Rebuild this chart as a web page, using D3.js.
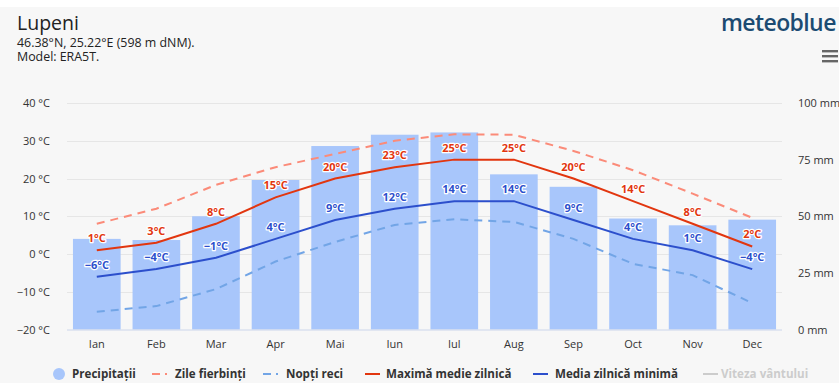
<!DOCTYPE html>
<html>
<head>
<meta charset="utf-8">
<script src="https://cdn.jsdelivr.net/npm/d3@7"></script>
<style>
  html, body { margin: 0; padding: 0; background: #ffffff; }
  svg { display: block; font-family: "Open Sans", "DejaVu Sans", sans-serif; }
</style>
</head>
<body>
<svg id="chart" width="839" height="383"></svg>
<script>
// Monthly climate for Lupeni
const months = ["Ian", "Feb", "Mar", "Apr", "Mai", "Iun", "Iul", "Aug", "Sep", "Oct", "Nov", "Dec"];
const precipitation = [40, 39.5, 50, 66, 81, 86, 87, 68.5, 63, 49, 46, 48.5];   // mm
const hotDays = [8, 12, 18.3, 23, 26.5, 30, 31.7, 31.6, 27.3, 22.2, 16, 9.6];      // °C
const coldNights = [-15.3, -13.8, -9.3, -2, 3.2, 7.7, 9.2, 8.5, 4, -2.6, -5.6, -13]; // °C
const maxDaily = [1, 3, 8, 15, 20, 23, 25, 25, 20, 14, 8, 2];                      // °C
const minDaily = [-6, -4, -1, 4, 9, 12, 14, 14, 9, 4, 1, -4];                      // °C
const tempTicks = [-20, -10, 0, 10, 20, 30, 40];
const precipTicks = [0, 25, 50, 75, 100];

const svg = d3.select("#chart");
const W = 839, H = 383;
const plot = { left: 67, right: 782, top: 103, bottom: 329.5 };

svg.append("rect").attr("x", 0).attr("y", 7).attr("width", W).attr("height", H - 7).attr("fill", "#f7f7f7");

const x = d3.scaleBand().domain(months).range([plot.left, plot.right]).paddingInner(0.2).paddingOuter(0.1);
const yT = d3.scaleLinear().domain([-20, 40]).range([plot.bottom, plot.top]);
const yP = d3.scaleLinear().domain([0, 100]).range([plot.bottom, plot.top]);

// Header
svg.append("text").attr("x", 17).attr("y", 30).attr("font-size", 19.5).attr("fill", "#222").text("Lupeni");
svg.append("text").attr("x", 17).attr("y", 47).attr("font-size", 12.4).attr("fill", "#222").text("46.38°N, 25.22°E (598 m dNM).");
svg.append("text").attr("x", 17).attr("y", 61).attr("font-size", 12.4).attr("fill", "#222").text("Model: ERA5T.");
svg.append("text").attr("x", 721).attr("y", 31).attr("font-size", 23).attr("font-weight", 600).attr("fill", "#1c4b72")
  .attr("letter-spacing", -0.6).text("meteoblue");
const burger = svg.append("g").attr("fill", "#666");
[50, 55, 60].forEach(yy => burger.append("rect").attr("x", 822).attr("y", yy).attr("width", 16).attr("height", 2.4));

// Gridlines
svg.append("g").selectAll("line").data(tempTicks.slice(1)).join("line")
  .attr("x1", plot.left).attr("x2", plot.right)
  .attr("y1", d => Math.round(yT(d)) + 0.5).attr("y2", d => Math.round(yT(d)) + 0.5)
  .attr("stroke", "#e6e6e6").attr("stroke-width", 1);

// Left axis (temperature)
const axL = svg.append("g").attr("transform", `translate(${plot.left - 14},0)`)
  .call(d3.axisLeft(yT).tickValues(tempTicks).tickSize(0).tickFormat(d => `${d} °C`));
axL.select(".domain").remove();
axL.selectAll("text").attr("font-size", 11).attr("fill", "#333").attr("font-family", "Open Sans, sans-serif")
  .text(d => `${d < 0 ? "\u2212" : ""}${Math.abs(d)} °C`);

// Right axis (precipitation)
const axR = svg.append("g").attr("transform", `translate(${plot.right + 13},0)`)
  .call(d3.axisRight(yP).tickValues(precipTicks).tickSize(0).tickFormat(d => `${d} mm`));
axR.select(".domain").remove();
axR.selectAll("text").attr("font-size", 11).attr("fill", "#333").attr("font-family", "Open Sans, sans-serif");

// Bars
svg.append("g").selectAll("rect").data(months).join("rect")
  .attr("x", d => x(d)).attr("width", x.bandwidth())
  .attr("y", (d, i) => yP(precipitation[i]))
  .attr("height", (d, i) => yP(0) - yP(precipitation[i]))
  .attr("fill", "#a8c6fb");

// Bottom axis
svg.append("line").attr("x1", plot.left).attr("x2", plot.right)
  .attr("y1", plot.bottom + 0.5).attr("y2", plot.bottom + 0.5).attr("stroke", "#ccd6eb");
const axB = svg.append("g").attr("transform", `translate(0,${plot.bottom + 8})`)
  .call(d3.axisBottom(x).tickSize(0));
axB.select(".domain").remove();
axB.selectAll("text").attr("font-size", 11).attr("fill", "#333").attr("font-family", "Open Sans, sans-serif");

// Temperature lines
const cx = m => x(m) + x.bandwidth() / 2;
const line = d3.line().x((d, i) => cx(months[i])).y(d => yT(d));
const series = [
  { data: coldNights, color: "#72a5e6", dash: "8,6" },
  { data: hotDays, color: "#fb8b79", dash: "8,6" },
  { data: minDaily, color: "#2c4fcc", dash: null },
  { data: maxDaily, color: "#e2360f", dash: null }
];
series.forEach(s => {
  svg.append("path").datum(s.data).attr("d", line)
    .attr("fill", "none").attr("stroke", s.color).attr("stroke-width", 2)
    .attr("stroke-dasharray", s.dash);
});

// Value labels
function labels(data, color) {
  svg.append("g").selectAll("text").data(data).join("text")
    .attr("x", (d, i) => cx(months[i])).attr("y", d => yT(d) - 8)
    .attr("text-anchor", "middle").attr("font-size", 11).attr("font-weight", "bold")
    .attr("fill", color).attr("stroke", "#fff").attr("stroke-width", 2.5)
    .attr("stroke-linejoin", "round").attr("paint-order", "stroke")
    .text(d => `${d < 0 ? "\u2212" : ""}${Math.abs(d)}°C`);
}
labels(minDaily, "#2c4fcc");
labels(maxDaily, "#e2360f");

// Legend
const lg = svg.append("g").attr("font-size", 11.6).attr("font-weight", "bold");
const ly = 378;
lg.append("circle").attr("cx", 59).attr("cy", ly - 4).attr("r", 6).attr("fill", "#a8c6fb");
lg.append("text").attr("x", 72).attr("y", ly).attr("fill", "#333").text("Precipitații");
function dashKey(x0, color) {
  lg.append("line").attr("x1", x0).attr("x2", x0 + 8).attr("y1", ly - 4).attr("y2", ly - 4).attr("stroke", color).attr("stroke-width", 2);
  lg.append("line").attr("x1", x0 + 13).attr("x2", x0 + 15).attr("y1", ly - 4).attr("y2", ly - 4).attr("stroke", color).attr("stroke-width", 2);
}
function solidKey(x0, color) {
  lg.append("line").attr("x1", x0).attr("x2", x0 + 15).attr("y1", ly - 4).attr("y2", ly - 4).attr("stroke", color).attr("stroke-width", 2);
}
dashKey(152, "#fb8b79");
lg.append("text").attr("x", 175).attr("y", ly).attr("fill", "#333").text("Zile fierbinți");
dashKey(263, "#72a5e6");
lg.append("text").attr("x", 286).attr("y", ly).attr("fill", "#333").text("Nopți reci");
solidKey(365, "#e2360f");
lg.append("text").attr("x", 386).attr("y", ly).attr("fill", "#333").text("Maximă medie zilnică");
solidKey(533, "#2c4fcc");
lg.append("text").attr("x", 555).attr("y", ly).attr("fill", "#333").text("Media zilnică minimă");
solidKey(703, "#cccccc");
lg.append("text").attr("x", 721).attr("y", ly).attr("fill", "#cccccc").text("Viteza vântului");
</script>
</body>
</html>
